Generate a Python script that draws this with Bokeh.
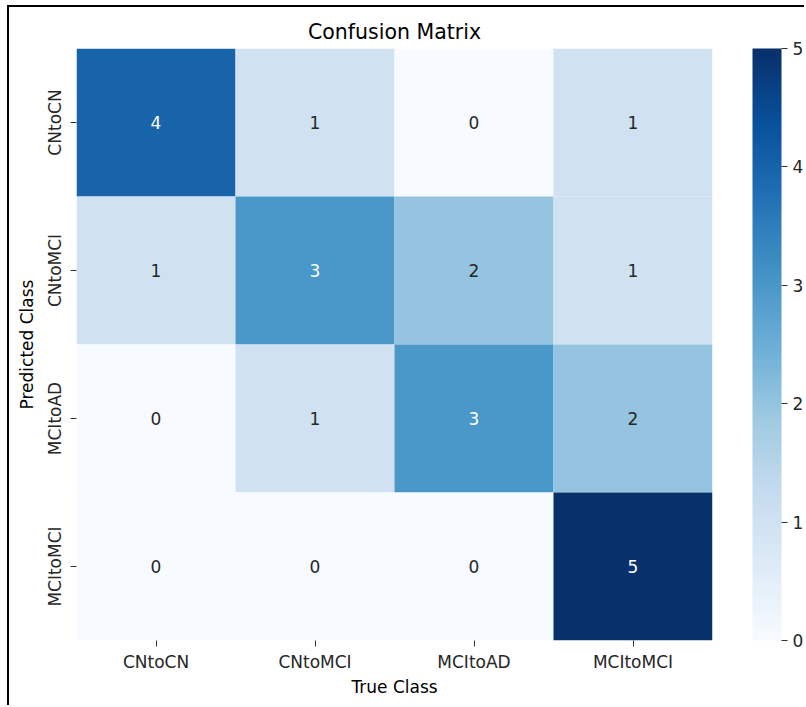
from bokeh.plotting import figure
from bokeh.models import LinearColorMapper, ColorBar, ColumnDataSource, FixedTicker
from bokeh.palettes import Blues256
from bokeh.embed import file_html
from bokeh.resources import INLINE

classes = ["CNtoCN", "CNtoMCI", "MCItoAD", "MCItoMCI"]
matrix = [
    [4, 1, 0, 1],
    [1, 3, 2, 1],
    [0, 1, 3, 2],
    [0, 0, 0, 5],
]
cbar_ticks = [0, 1, 2, 3, 4, 5]

FONT = "DejaVu Sans"
FS = "17px"

xs, ys, vals, tcol = [], [], [], []
for i, row in enumerate(matrix):
    for j, v in enumerate(row):
        xs.append(classes[j])
        ys.append(classes[i])
        vals.append(v)
        tcol.append("#ffffff" if v >= 3 else "#262626")
src = ColumnDataSource(dict(x=xs, y=ys, v=vals, t=[str(v) for v in vals], tc=tcol))

mapper = LinearColorMapper(palette=list(Blues256[::-1]), low=0, high=5)

p = figure(width=797, height=700, x_range=classes, y_range=classes[::-1],
           output_backend="svg", toolbar_location=None,
           min_border_left=67, min_border_right=94, min_border_top=41, min_border_bottom=67,
           title="Confusion Matrix")
p.styles = {"border-left": "2px solid black", "border-top": "2px solid black",
            "margin-left": "7px", "margin-top": "5px"}

p.rect(x="x", y="y", width=1, height=1, source=src,
       fill_color={"field": "v", "transform": mapper}, line_color=None)
p.text(x="x", y="y", text="t", source=src, text_color="tc",
       text_align="center", text_baseline="middle", text_font_size=FS,
       text_font={"value": FONT})

p.outline_line_color = None
p.grid.grid_line_color = None
p.background_fill_color = "white"

p.title.text_font = FONT
p.title.text_font_size = "20.5px"
p.title.text_font_style = "normal"
p.title.align = "center"
p.title.text_color = "#000000"

for ax in (p.xaxis, p.yaxis):
    ax.axis_line_color = None
    ax.major_tick_in = 0
    ax.major_tick_out = 6
    ax.major_tick_line_color = "#333333"
    ax.minor_tick_line_color = None
    ax.major_label_text_font = FONT
    ax.major_label_text_font_size = FS
    ax.major_label_text_color = "#262626"
    ax.axis_label_text_font = FONT
    ax.axis_label_text_font_size = FS
    ax.axis_label_text_font_style = "normal"
    ax.axis_label_text_color = "#000000"

p.xaxis.axis_label = "True Class"
p.yaxis.axis_label = "Predicted Class"
p.yaxis.major_label_orientation = "vertical"
p.xaxis.major_label_standoff = 5
p.yaxis.major_label_standoff = 6
p.xaxis.axis_label_standoff = 2

cb = ColorBar(color_mapper=mapper, ticker=FixedTicker(ticks=cbar_ticks),
              width=29, location=(40, 0), padding=0, margin=0,
              major_tick_in=0, major_tick_out=6, major_tick_line_color="#333333",
              major_label_text_font=FONT, major_label_text_font_size=FS,
              major_label_text_color="#262626", bar_line_color=None,
              border_line_color=None, background_fill_color=None)
p.add_layout(cb, "right")

open("out.html", "w").write(file_html(p, INLINE))
